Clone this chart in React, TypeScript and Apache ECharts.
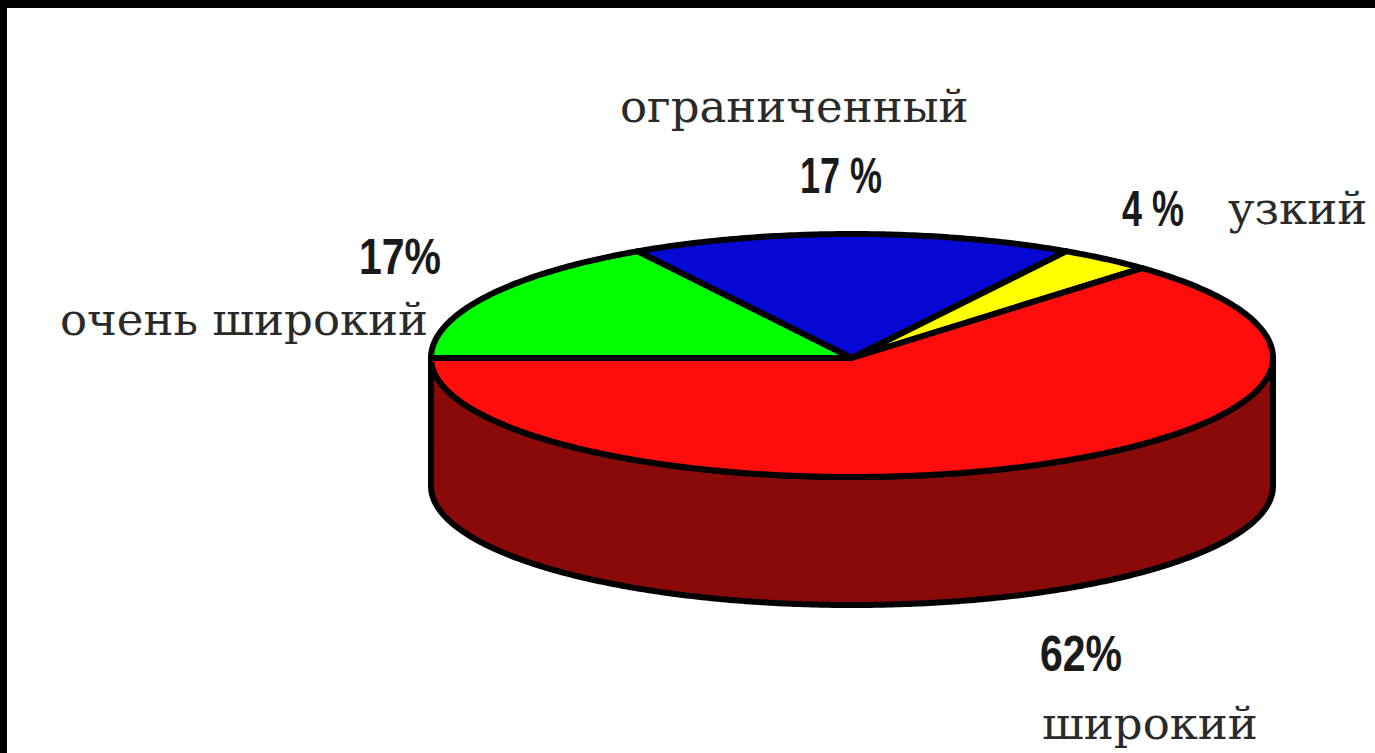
import React, { useEffect, useRef } from "react";
import * as echarts from "echarts";

const categories = ["очень широкий", "ограниченный", "узкий", "широкий"];
const shares = [16.5, 17, 3.6, 62.9];
const percentLabels = ["17%", "17 %", "4 %", "62%"];
const colors = ["#00ff00", "#0808d4", "#ffff00", "#ff0d0d"];

const CX = 852, CY = 358, RX = 421, RY_TOP = 124, RY_BOTTOM = 119, DEPTH = 128;
const WALL = "#8a0a0a";
const TOTAL = shares.reduce((a, b) => a + b, 0);

function arc(from: number, to: number, dy = 0) {
  const pts: number[][] = [];
  const n = Math.max(2, Math.ceil(Math.abs(to - from) / 0.01));
  for (let i = 0; i <= n; i++) {
    const a = from + ((to - from) * i) / n;
    const s = Math.sin(a);
    pts.push([CX + RX * Math.cos(a), CY - (s > 0 ? RY_TOP : RY_BOTTOM) * s + dy]);
  }
  return pts;
}

function renderSlice(params: any, api: any) {
  const i = params.dataIndex;
  const before = shares.slice(0, i).reduce((a, b) => a + b, 0);
  const start = Math.PI - (before / TOTAL) * 2 * Math.PI;
  const end = start - (api.value(0) / TOTAL) * 2 * Math.PI;
  const children: any[] = [];
  if (i === shares.length - 1) {
    const top = arc(Math.PI, 2 * Math.PI);
    const bottom = arc(2 * Math.PI, Math.PI, DEPTH);
    children.push({
      type: "polygon",
      shape: { points: [...top, ...bottom] },
      style: { fill: WALL, stroke: "#000", lineWidth: 6, lineJoin: "round" },
    });
  }
  children.push({
    type: "polygon",
    shape: { points: [[CX, CY], ...arc(start, end)] },
    style: { fill: colors[i], stroke: "#000", lineWidth: 6, lineJoin: "round" },
  });
  return { type: "group", children };
}

const serif = "'DejaVu Serif', serif";
const sans = "'Liberation Sans', sans-serif";
const nameText = (text: string, x: number, y: number) => ({
  type: "text", x, y,
  style: { text, fill: "#2a2a2a", font: `400 45px ${serif}`, textAlign: "left", textVerticalAlign: "middle" },
});
const pctText = (text: string, x: number, y: number, scaleX = 0.72) => ({
  type: "text", x, y, scaleX,
  style: { text, fill: "#1a1a1a", font: `700 50px ${sans}`, textAlign: "left", textVerticalAlign: "middle" },
});

export default function App() {
  const ref = useRef<HTMLDivElement>(null);
  useEffect(() => {
    document.body.style.margin = "0";
    document.body.style.background = "#000";
    const chart = echarts.init(ref.current!, undefined, { renderer: "svg" });
    chart.setOption({
      animation: false,
      backgroundColor: "#000",
      graphic: [
        { type: "rect", z: -10, shape: { x: 7, y: 8, width: 1368, height: 745 }, style: { fill: "#fff" } },
        nameText(categories[1], 620, 106),
        pctText(percentLabels[1], 800, 176),
        pctText(percentLabels[2], 1122, 209),
        nameText(categories[2], 1228, 208),
        pctText(percentLabels[0], 359, 257, 0.82),
        nameText(categories[0], 60, 319),
        pctText(percentLabels[3], 1040, 654, 0.82),
        nameText(categories[3], 1042, 723),
      ],
      series: [
        {
          type: "custom",
          coordinateSystem: "none",
          silent: true,
          renderItem: renderSlice,
          data: shares.map((v, i) => ({ name: categories[i], value: [v] })),
        },
      ],
    });
    return () => chart.dispose();
  }, []);
  return <div ref={ref} style={{ width: 1375, height: 753 }} />;
}
